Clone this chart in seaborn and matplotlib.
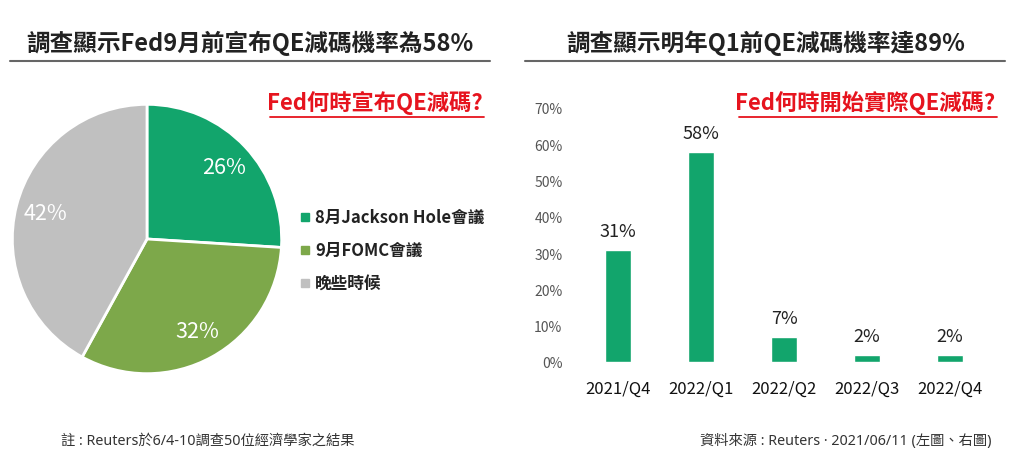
""" Recreate the Fed QE tapering survey chart (pie + bar) """

import matplotlib
matplotlib.use("Agg")
import matplotlib.pyplot as plt
from matplotlib.lines import Line2D
from matplotlib.patches import Rectangle
import pandas as pd
import seaborn as sns

# Data
pie_labels = ["8月Jackson Hole會議", "9月FOMC會議", "晚些時候"]
pie_values = [26, 32, 42]
pie_colors = ["#12a56c", "#7da84a", "#c0c0c0"]

quarters = ["2021/Q4", "2022/Q1", "2022/Q2", "2022/Q3", "2022/Q4"]
bar_values = [31, 58, 7, 2, 2]
bar_color = "#12a56c"
y_ticks = [0, 10, 20, 30, 40, 50, 60, 70]

left_title = "調查顯示Fed9月前宣布QE減碼機率為58%"
right_title = "調查顯示明年Q1前QE減碼機率達89%"
left_sub = "Fed何時宣布QE減碼?"
right_sub = "Fed何時開始實際QE減碼?"
note_left = "註 : Reuters於6/4-10調查50位經濟學家之結果"
note_right = "資料來源 : Reuters · 2021/06/11 (左圖、右圖)"

W, H = 1024, 456
RED = "#e6141e"


def fx(x):
    return x / W


def fy(y):
    return 1 - y / H


def plot():
    """ Creates the two-panel figure """
    sns.set_theme(style="white")
    plt.rcParams["font.family"] = ["Noto Sans CJK TC", "DejaVu Sans"]

    fig = plt.figure(figsize=(W / 100, H / 100), dpi=100)

    # Titles with grey rules under them
    fig.text(fx(250), fy(43), left_title, ha="center", va="center",
             fontsize=17, fontweight="bold", color="#222222")
    fig.text(fx(766), fy(43), right_title, ha="center", va="center",
             fontsize=17, fontweight="bold", color="#222222")
    fig.add_artist(Line2D([fx(10), fx(490)], [fy(62)] * 2, color="#666666", lw=1.5))
    fig.add_artist(Line2D([fx(525), fx(1005)], [fy(62)] * 2, color="#666666", lw=1.5))

    # Red subtitles with underline
    fig.text(fx(483), fy(103), left_sub, ha="right", va="center",
             fontsize=16, fontweight="bold", color=RED)
    fig.add_artist(Line2D([fx(270), fx(484)], [fy(118)] * 2, color=RED, lw=1.3))
    fig.text(fx(995), fy(103), right_sub, ha="right", va="center",
             fontsize=16, fontweight="bold", color=RED)
    fig.add_artist(Line2D([fx(739), fx(997)], [fy(118)] * 2, color=RED, lw=1.3))

    # Pie
    ax_pie = fig.add_axes([fx(11), fy(376), 272 / W, 272 / H])
    ax_pie.pie(pie_values, colors=pie_colors, startangle=90, counterclock=False,
               wedgeprops=dict(edgecolor="white", linewidth=2),
               autopct=lambda p: f"{p:.0f}%", pctdistance=0.78,
               textprops=dict(color="white", fontsize=15.5))
    ax_pie.set_xlim(-1.01, 1.01)
    ax_pie.set_ylim(-1.01, 1.01)

    # Pie legend
    for i, (lab, col) in enumerate(zip(pie_labels, pie_colors)):
        yc = 218 + i * 33
        fig.add_artist(Rectangle((fx(301), fy(yc + 4)), 8 / W, 8 / H,
                                 color=col, transform=fig.transFigure))
        fig.text(fx(315), fy(yc), lab, ha="left", va="center",
                 fontsize=12, fontweight="bold", color="#222222")

    # Bars
    df = pd.DataFrame({"Quarter": quarters, "Value": bar_values})
    ax_bar = fig.add_axes([fx(568), fy(363), 432 / W, 254 / H])
    sns.barplot(data=df, x="Quarter", y="Value", color=bar_color,
                saturation=1, width=0.31, ax=ax_bar)
    ax_bar.bar_label(ax_bar.containers[0], fmt="%d%%", padding=7,
                     fontsize=13, color="#222222")
    ax_bar.set_xlim(-0.6, 4.6)
    ax_bar.set_ylim(0, 70)
    ax_bar.set_yticks(y_ticks)
    ax_bar.set_yticklabels([f"{v}%" for v in y_ticks], fontsize=10, color="#555555")
    ax_bar.tick_params(axis="y", length=0, pad=4)
    ax_bar.tick_params(axis="x", length=0, pad=13, labelsize=12, labelcolor="#111111")
    ax_bar.set_xlabel("")
    ax_bar.set_ylabel("")
    sns.despine(ax=ax_bar, left=True, bottom=True)

    # Footnotes (latin text and middle dot from Noto Sans, CJK falls back)
    foot_font = ["Noto Sans", "Noto Sans CJK TC"]
    fig.text(fx(61), fy(441), note_left, ha="left", va="center",
             fontsize=10.3, color="#333333", family=foot_font)
    fig.text(fx(992), fy(441), note_right, ha="right", va="center",
             fontsize=10.3, color="#333333", family=foot_font)

    fig.savefig("out.png", dpi=100, facecolor="white")


if __name__ == "__main__":
    plot()
